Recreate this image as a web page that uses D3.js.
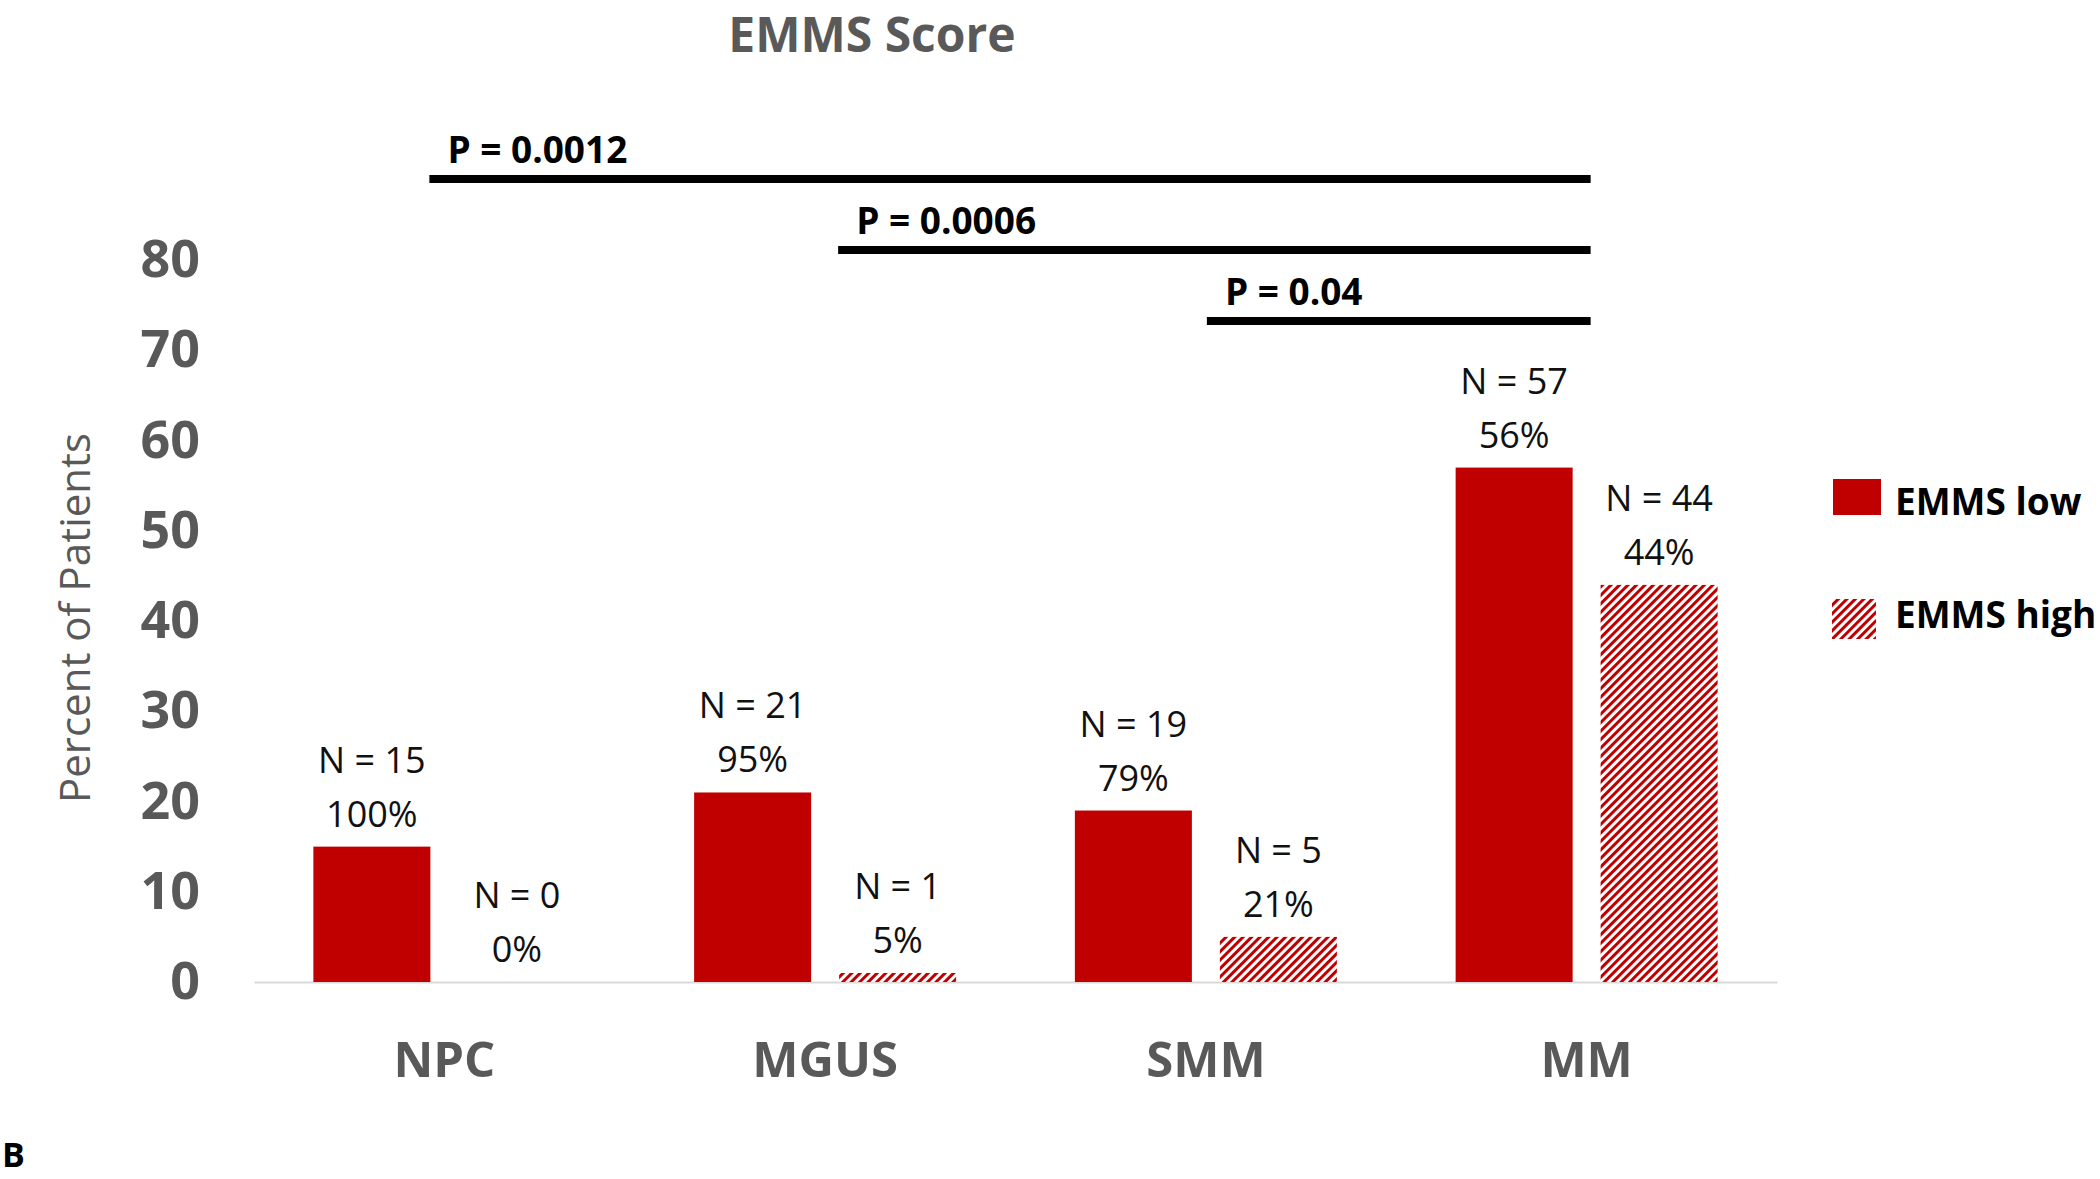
<!DOCTYPE html>
<html>
<head>
<meta charset="utf-8">
<script src="https://cdn.jsdelivr.net/npm/d3@7"></script>
<style>
  html, body { margin: 0; padding: 0; background: #ffffff; }
  svg { display: block; }
</style>
</head>
<body>
<script>
// ---- data ----
const categories = ["NPC", "MGUS", "SMM", "MM"];
const seriesNames = ["EMMS low", "EMMS high"];
const lowValues = [15, 21, 19, 57];
const highValues = [0, 1, 5, 44];
const lowPct = ["100%", "95%", "79%", "56%"];
const highPct = ["0%", "5%", "21%", "44%"];
const yTicks = [0, 10, 20, 30, 40, 50, 60, 70, 80];
const sigFrom = ["NPC", "MGUS", "SMM"];
const sigTo = ["MM", "MM", "MM"];
const sigLabels = ["P = 0.0012", "P = 0.0006", "P = 0.04"];
const titleText = "EMMS Score";
const yTitle = "Percent of Patients";
const panelLabel = "B";

// ---- layout ----
const W = 2100, H = 1179;
const RED = "#C00000", GRAY = "#595959";
const FONT = "'Open Sans', 'Noto Sans', sans-serif";
const sigStartShift = [-15, 13, 1];   // bracket start offsets from category centre (px)

const svg = d3.select("body").append("svg").attr("width", W).attr("height", H);

const defs = svg.append("defs");
const pat = defs.append("pattern")
  .attr("id", "hatch")
  .attr("patternUnits", "userSpaceOnUse")
  .attr("width", 6).attr("height", 6)
  .attr("patternTransform", "rotate(45)");
pat.append("rect").attr("width", 6).attr("height", 6).attr("fill", "#fff");
pat.append("line").attr("x1", 1.5).attr("y1", 0).attr("x2", 1.5).attr("y2", 6)
  .attr("stroke", RED).attr("stroke-width", 3);

const x0 = d3.scaleBand().domain(categories).range([254, 1777]).padding(0);
const x1 = d3.scaleBand().domain(seriesNames)
  .range([x0.bandwidth() / 2 - 131, x0.bandwidth() / 2 + 131]).paddingInner(0.193);
const y = d3.scaleLinear().domain([0, 80]).range([982, 260]);

// title
svg.append("text").attr("x", 872).attr("y", 52).attr("text-anchor", "middle")
  .attr("font-family", FONT).attr("font-weight", 700).attr("font-size", 48)
  .attr("fill", GRAY).text(titleText);

// y axis
const yAxis = svg.append("g").attr("transform", "translate(254,0)")
  .call(d3.axisLeft(y).tickValues(yTicks).tickSize(0).tickPadding(54));
yAxis.select(".domain").remove();
yAxis.selectAll("text").attr("font-family", FONT).attr("font-weight", 700)
  .attr("font-size", 52).attr("fill", GRAY);

// y title
svg.append("text").attr("transform", "translate(90,618) rotate(-90)")
  .attr("text-anchor", "middle").attr("font-family", FONT).attr("font-weight", 400)
  .attr("font-size", 42).attr("fill", GRAY).text(yTitle);

// x axis
const xAxis = svg.append("g").attr("transform", "translate(0,982)")
  .call(d3.axisBottom(x0).tickSize(0).tickSizeOuter(0));
xAxis.select(".domain").attr("stroke", "#d9d9d9").attr("stroke-width", 2);
xAxis.selectAll("text").attr("y", 95).attr("dy", 0)
  .attr("font-family", FONT).attr("font-weight", 700).attr("font-size", 49).attr("fill", GRAY);

// bars
const rows = categories.map((c, i) => ({
  cat: c,
  items: [
    { s: seriesNames[0], v: lowValues[i], pct: lowPct[i] },
    { s: seriesNames[1], v: highValues[i], pct: highPct[i] }
  ]
}));

const groups = svg.append("g").selectAll("g").data(rows).join("g")
  .attr("transform", d => `translate(${x0(d.cat)},0)`);

groups.selectAll("rect").data(d => d.items).join("rect")
  .attr("x", d => x1(d.s)).attr("width", x1.bandwidth())
  .attr("y", d => y(d.v)).attr("height", d => y(0) - y(d.v))
  .attr("fill", d => d.s === seriesNames[0] ? RED : "url(#hatch)");

const lab = groups.selectAll("g.lab").data(d => d.items).join("g").attr("class", "lab");
lab.append("text")
  .attr("x", d => x1(d.s) + x1.bandwidth() / 2).attr("y", d => y(d.v) - 74)
  .attr("text-anchor", "middle").attr("font-family", FONT).attr("font-size", 36)
  .attr("font-weight", 500).attr("fill", "#111").text(d => "N = " + d.v);
lab.append("text")
  .attr("x", d => x1(d.s) + x1.bandwidth() / 2).attr("y", d => y(d.v) - 20)
  .attr("text-anchor", "middle").attr("font-family", FONT).attr("font-size", 36)
  .attr("font-weight", 500).attr("fill", "#111").text(d => d.pct);

// significance bars
const sig = svg.append("g").selectAll("g")
  .data(sigLabels.map((p, i) => ({ p, a: sigFrom[i], b: sigTo[i], i })))
  .join("g");
const cx = c => x0(c) + x0.bandwidth() / 2;
sig.append("line")
  .attr("x1", d => cx(d.a) + sigStartShift[d.i]).attr("x2", d => cx(d.b) + 4)
  .attr("y1", d => 179 + d.i * 71).attr("y2", d => 179 + d.i * 71)
  .attr("stroke", "#000").attr("stroke-width", 8);
sig.append("text")
  .attr("x", d => cx(d.a) + sigStartShift[d.i] + 18).attr("y", d => 163 + d.i * 71)
  .attr("font-family", FONT).attr("font-weight", 700).attr("font-size", 37)
  .attr("fill", "#000").text(d => d.p);

// legend
const leg = svg.append("g");
leg.append("rect").attr("x", 1833).attr("y", 479).attr("width", 48).attr("height", 36).attr("fill", RED);
leg.append("rect").attr("x", 1832).attr("y", 599).attr("width", 44).attr("height", 40).attr("fill", "url(#hatch)");
leg.append("text").attr("x", 1895).attr("y", 515).attr("font-family", FONT).attr("font-weight", 700)
  .attr("font-size", 37).attr("fill", "#000").text(seriesNames[0]);
leg.append("text").attr("x", 1895).attr("y", 628).attr("font-family", FONT).attr("font-weight", 700)
  .attr("font-size", 37).attr("fill", "#000").text(seriesNames[1]);

// panel label
svg.append("text").attr("x", 2).attr("y", 1167).attr("font-family", FONT).attr("font-weight", 700)
  .attr("font-size", 34).attr("fill", "#000").text(panelLabel);
</script>
</body>
</html>
